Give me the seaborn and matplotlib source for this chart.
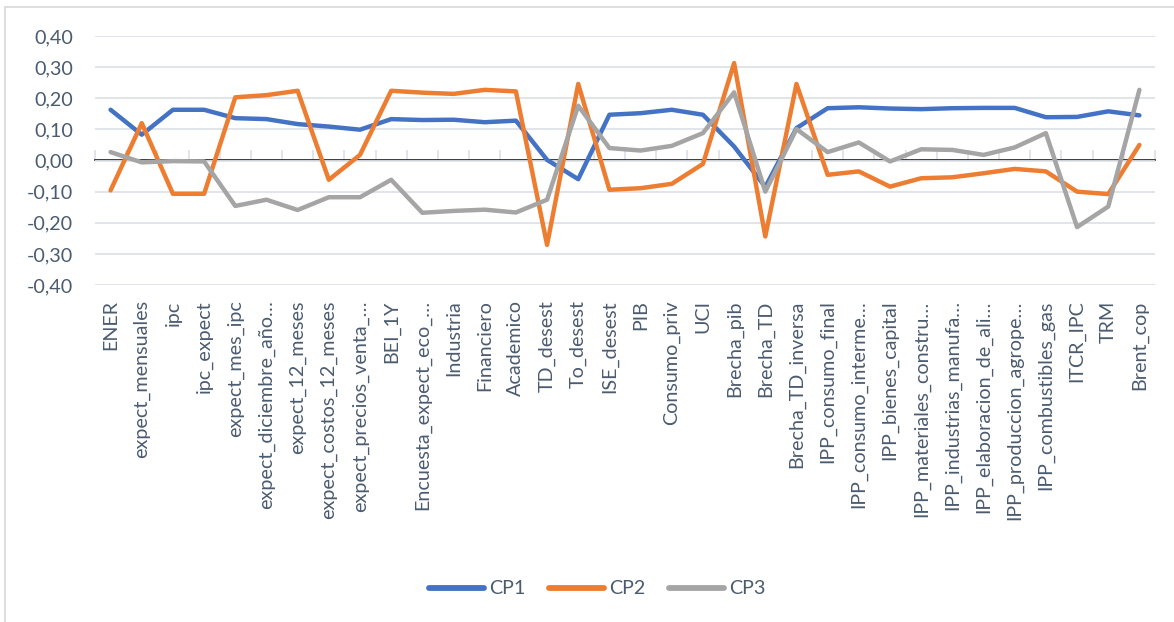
import numpy as np
import pandas as pd
import matplotlib
matplotlib.use("Agg")
import matplotlib.pyplot as plt
from matplotlib.ticker import FuncFormatter
from matplotlib.lines import Line2D
import seaborn as sns

categories = [
    "ENER", "expect_mensuales", "ipc", "ipc_expect", "expect_mes_ipc",
    "expect_diciembre_año…", "expect_12_meses", "expect_costos_12_meses",
    "expect_precios_venta_…", "BEI_1Y", "Encuesta_expect_eco_…", "Industria",
    "Financiero", "Academico", "TD_desest", "To_desest", "ISE_desest", "PIB",
    "Consumo_priv", "UCI", "Brecha_pib", "Brecha_TD", "Brecha_TD_inversa",
    "IPP_consumo_final", "IPP_consumo_interme…", "IPP_bienes_capital",
    "IPP_materiales_constru…", "IPP_industrias_manufa…",
    "IPP_elaboracion_de_ali…", "IPP_produccion_agrope…",
    "IPP_combustibles_gas", "ITCR_IPC", "TRM", "Brent_cop",
]

cp1 = [0.163, 0.083, 0.163, 0.163, 0.136, 0.133, 0.117, 0.109, 0.099, 0.133,
       0.130, 0.131, 0.123, 0.128, 0.002, -0.060, 0.147, 0.152, 0.163, 0.147,
       0.045, -0.085, 0.104, 0.168, 0.171, 0.167, 0.165, 0.168, 0.169, 0.169,
       0.139, 0.140, 0.158, 0.145]
cp2 = [-0.096, 0.120, -0.107, -0.107, 0.203, 0.210, 0.224, -0.062, 0.018, 0.224,
       0.218, 0.214, 0.227, 0.222, -0.271, 0.246, -0.094, -0.089, -0.075, -0.011,
       0.313, -0.244, 0.246, -0.046, -0.035, -0.084, -0.057, -0.054, -0.041,
       -0.027, -0.035, -0.100, -0.108, 0.050]
cp3 = [0.027, -0.006, -0.002, -0.003, -0.146, -0.126, -0.159, -0.118, -0.118,
       -0.062, -0.168, -0.162, -0.158, -0.167, -0.126, 0.176, 0.040, 0.032,
       0.047, 0.088, 0.219, -0.100, 0.101, 0.027, 0.058, -0.003, 0.036, 0.034,
       0.018, 0.042, 0.088, -0.214, -0.148, 0.227]

series_names = ["CP1", "CP2", "CP3"]
palette = {"CP1": "#4472C4", "CP2": "#ED7D31", "CP3": "#A5A5A5"}

pos = np.arange(len(categories))
df = pd.concat(
    [pd.DataFrame({"pos": pos, "valor": vals, "serie": name})
     for name, vals in zip(series_names, [cp1, cp2, cp3])],
    ignore_index=True,
)

sns.set_theme(style="white")
plt.rcParams["font.family"] = ["Lato", "DejaVu Sans"]
text_color = "#4B5B70"
grid_color = "#DEE2E7"
font_size = 14.2

fig = plt.figure(figsize=(11.74, 6.22), dpi=100)
ax = fig.add_axes([95 / 1174, 1 - 285 / 622, 1060 / 1174, 249 / 622])

sns.lineplot(data=df, x="pos", y="valor", hue="serie", hue_order=series_names,
             palette=palette, linewidth=3.2, sort=False, ax=ax, legend=False,
             solid_capstyle="round", solid_joinstyle="round")

ax.set_xlim(-0.5, len(categories) - 0.5)
ax.set_ylim(-0.4, 0.4)
ax.set_yticks(np.linspace(-0.4, 0.4, 9))
ax.yaxis.set_major_formatter(FuncFormatter(lambda v, _: f"{v:.2f}".replace(".", ",")))
ax.set_xticks(pos, categories, rotation=90)
ax.set_xlabel("")
ax.set_ylabel("")

ax.grid(axis="y", color=grid_color, linewidth=1.3)
ax.set_axisbelow(True)
for side in ["top", "right", "left", "bottom"]:
    ax.spines[side].set_visible(False)
ax.tick_params(axis="x", length=0, pad=11, labelsize=font_size, labelcolor=text_color)
ax.tick_params(axis="y", length=0, pad=16, labelsize=font_size, labelcolor=text_color)

# category axis line at zero with tick marks between categories
zero_axis = ax.secondary_xaxis(0.5)
zero_axis.set_xticks(pos[:-1] + 0.5)
zero_axis.set_xticks([-0.5, len(categories) - 0.5], minor=True)
zero_axis.tick_params(axis="x", which="both", direction="out", length=7,
                      width=1.3, color=grid_color, labelbottom=False)
zero_axis.spines["bottom"].set_color(grid_color)
zero_axis.spines["bottom"].set_linewidth(1.3)
zero_axis.set_xticklabels([])

handles = [Line2D([0], [0], color=palette[n], linewidth=4.2, solid_capstyle="round")
           for n in series_names]
fig.legend(handles, series_names, loc="center", bbox_to_anchor=(597 / 1174, 1 - 589 / 622),
           ncol=3, frameon=False, fontsize=font_size, labelcolor=text_color,
           handlelength=2.8, handletextpad=0.25, columnspacing=1.2)

# chart area border
border_color = "#D9D9D9"
fig.add_artist(Line2D([5 / 1174, 5 / 1174], [0, 1 - 7 / 622], transform=fig.transFigure,
                      color=border_color, linewidth=1.2))
fig.add_artist(Line2D([5 / 1174, 1], [1 - 7 / 622, 1 - 7 / 622], transform=fig.transFigure,
                      color=border_color, linewidth=1.2))

fig.savefig("out.png", dpi=100, facecolor="white")
